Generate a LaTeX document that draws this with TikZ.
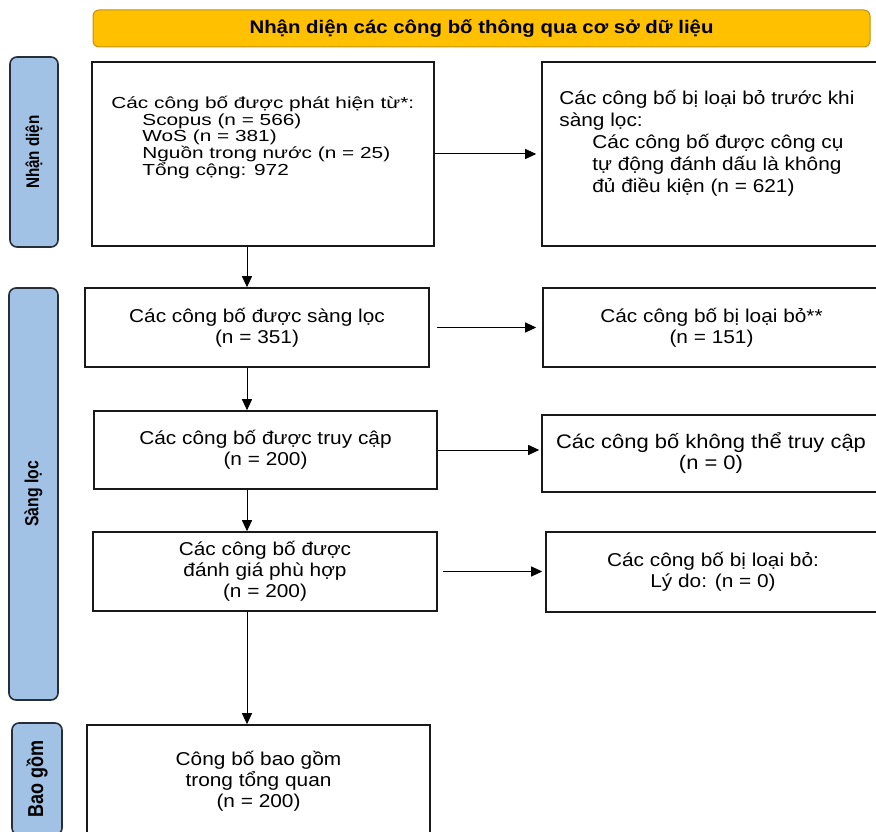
\documentclass[tikz,border=0pt]{standalone}
\usepackage{graphicx}
\usepackage{fontspec}
\setmainfont{Liberation Sans}[FakeStretch=1.12]
\newfontfamily\narrowfont{Liberation Sans}[FakeStretch=1.3]
\newfontfamily\sidefont{Liberation Sans}
\usetikzlibrary{arrows.meta}

\definecolor{sideblue}{RGB}{162,194,229}
\definecolor{sideline}{RGB}{38,46,58}
\definecolor{headgold}{RGB}{255,192,0}
\definecolor{headline}{RGB}{190,146,24}

\newcommand{\thicklabel}[1]{\scalebox{1}[1.2]{#1}}

\begin{document}
\begin{tikzpicture}[x=1pt, y=-1pt,
    box/.style={rectangle, draw=black!90, line width=1.6pt, inner sep=0pt, align=center,
        font=\fontsize{18.6pt}{21pt}\selectfont},
    side/.style={rectangle, rounded corners=7pt, draw=sideline, line width=1.6pt,
        fill=sideblue, rotate=90, inner sep=0pt},
    head/.style={rectangle, rounded corners=6pt, draw=headline, line width=1pt,
        fill=headgold, inner sep=0pt, font=\bfseries\fontsize{18.2pt}{20pt}\selectfont},
    listtext/.style={anchor=north west, inner sep=0pt, align=left},
    arr/.style={-{Triangle[length=11pt,width=10pt]}, line width=1pt},
]
    \path[use as bounding box, fill=white] (0,0) rectangle (876,832);

    % banner and phase labels
    \node [head, minimum width=777pt, minimum height=37pt] (banner) at (481.5,28.5)
        {Nhận diện các công bố thông qua cơ sở dữ liệu};
    \node [side, minimum width=190pt, minimum height=48pt,
        font=\sidefont\bfseries\fontsize{15.2pt}{18pt}\selectfont] (identify) at (34,152)
        {\thicklabel{Nhận diện}};
    \node [side, minimum width=412pt, minimum height=49pt,
        font=\sidefont\bfseries\fontsize{15.8pt}{18pt}\selectfont] (screen) at (33.5,494)
        {\thicklabel{Sàng lọc}};
    \node [side, minimum width=112pt, minimum height=50pt,
        font=\sidefont\bfseries\fontsize{18pt}{20pt}\selectfont] (include) at (37,779)
        {\thicklabel{Bao gồm}};

    % left column
    \node [box, minimum width=342pt, minimum height=184pt] (found) at (263,154) {};
    \node [listtext, font=\narrowfont\fontsize{16pt}{16.6pt}\selectfont] (foundtxt)
        at ([shift={(20,35)}]found.north west)
        {Các công bố được phát hiện từ*:\\
         \hspace*{31pt}Scopus (n = 566)\\
         \hspace*{31pt}WoS (n = 381)\\
         \hspace*{31pt}Nguồn trong nước (n = 25)\\
         \hspace*{31pt}Tổng cộng: 972};
    \node [box, minimum width=344pt, minimum height=79pt] (screened) at (257,327.5)
        {Các công bố được sàng lọc\\(n = 351)};
    \node [box, minimum width=343pt, minimum height=78pt] (sought) at (265.5,450)
        {Các công bố được truy cập\\(n = 200)};
    \node [box, minimum width=344pt, minimum height=79pt] (assessed) at (265,571.5)
        {Các công bố được\\đánh giá phù hợp\\(n = 200)};
    \node [box, minimum width=343pt, minimum height=112pt] (included) at (258.5,781)
        {Công bố bao gồm\\trong tổng quan\\(n = 200)};

    % right column
    \node [box, minimum width=338pt, minimum height=184pt] (removed) at (711,154) {};
    \node [listtext, font=\fontsize{18.6pt}{22pt}\selectfont] (removedtxt)
        at ([shift={(18,29)}]removed.north west)
        {Các công bố bị loại bỏ trước khi\\
         sàng lọc:\\
         \hspace*{33pt}Các công bố được công cụ\\
         \hspace*{33pt}tự động đánh dấu là không\\
         \hspace*{33pt}đủ điều kiện (n = 621)};
    \node [box, minimum width=337pt, minimum height=79pt] (excluded) at (711.5,327.5)
        {Các công bố bị loại bỏ**\\(n = 151)};
    \node [box, minimum width=338pt, minimum height=77pt,
        font=\fontsize{19.6pt}{21pt}\selectfont] (notfound) at (711,453.5)
        {Các công bố không thể truy cập\\(n = 0)};
    \node [box, minimum width=334pt, minimum height=80pt] (reasons) at (713,572)
        {Các công bố bị loại bỏ:\\Lý do: (n = 0)};

    % connectors
    \coordinate (spine) at (247,0);
    \draw [arr] (spine |- found.south) -- (spine |- screened.north);
    \draw [arr] (spine |- screened.south) -- (spine |- sought.north);
    \draw [arr] (spine |- sought.south) -- (spine |- assessed.north);
    \draw [arr] (spine |- assessed.south) -- (spine |- included.north);

    \draw [arr, shorten >=5pt] (found.east) -- (found.east -| removed.west);
    \draw [arr, shorten <=7pt, shorten >=6pt] (screened.east) -- (screened.east -| excluded.west);
    \draw [arr, shorten >=2pt] (sought.east) -- (sought.east -| notfound.west);
    \draw [arr, shorten <=5pt, shorten >=3pt] (assessed.east) -- (assessed.east -| reasons.west);
\end{tikzpicture}
\end{document}
